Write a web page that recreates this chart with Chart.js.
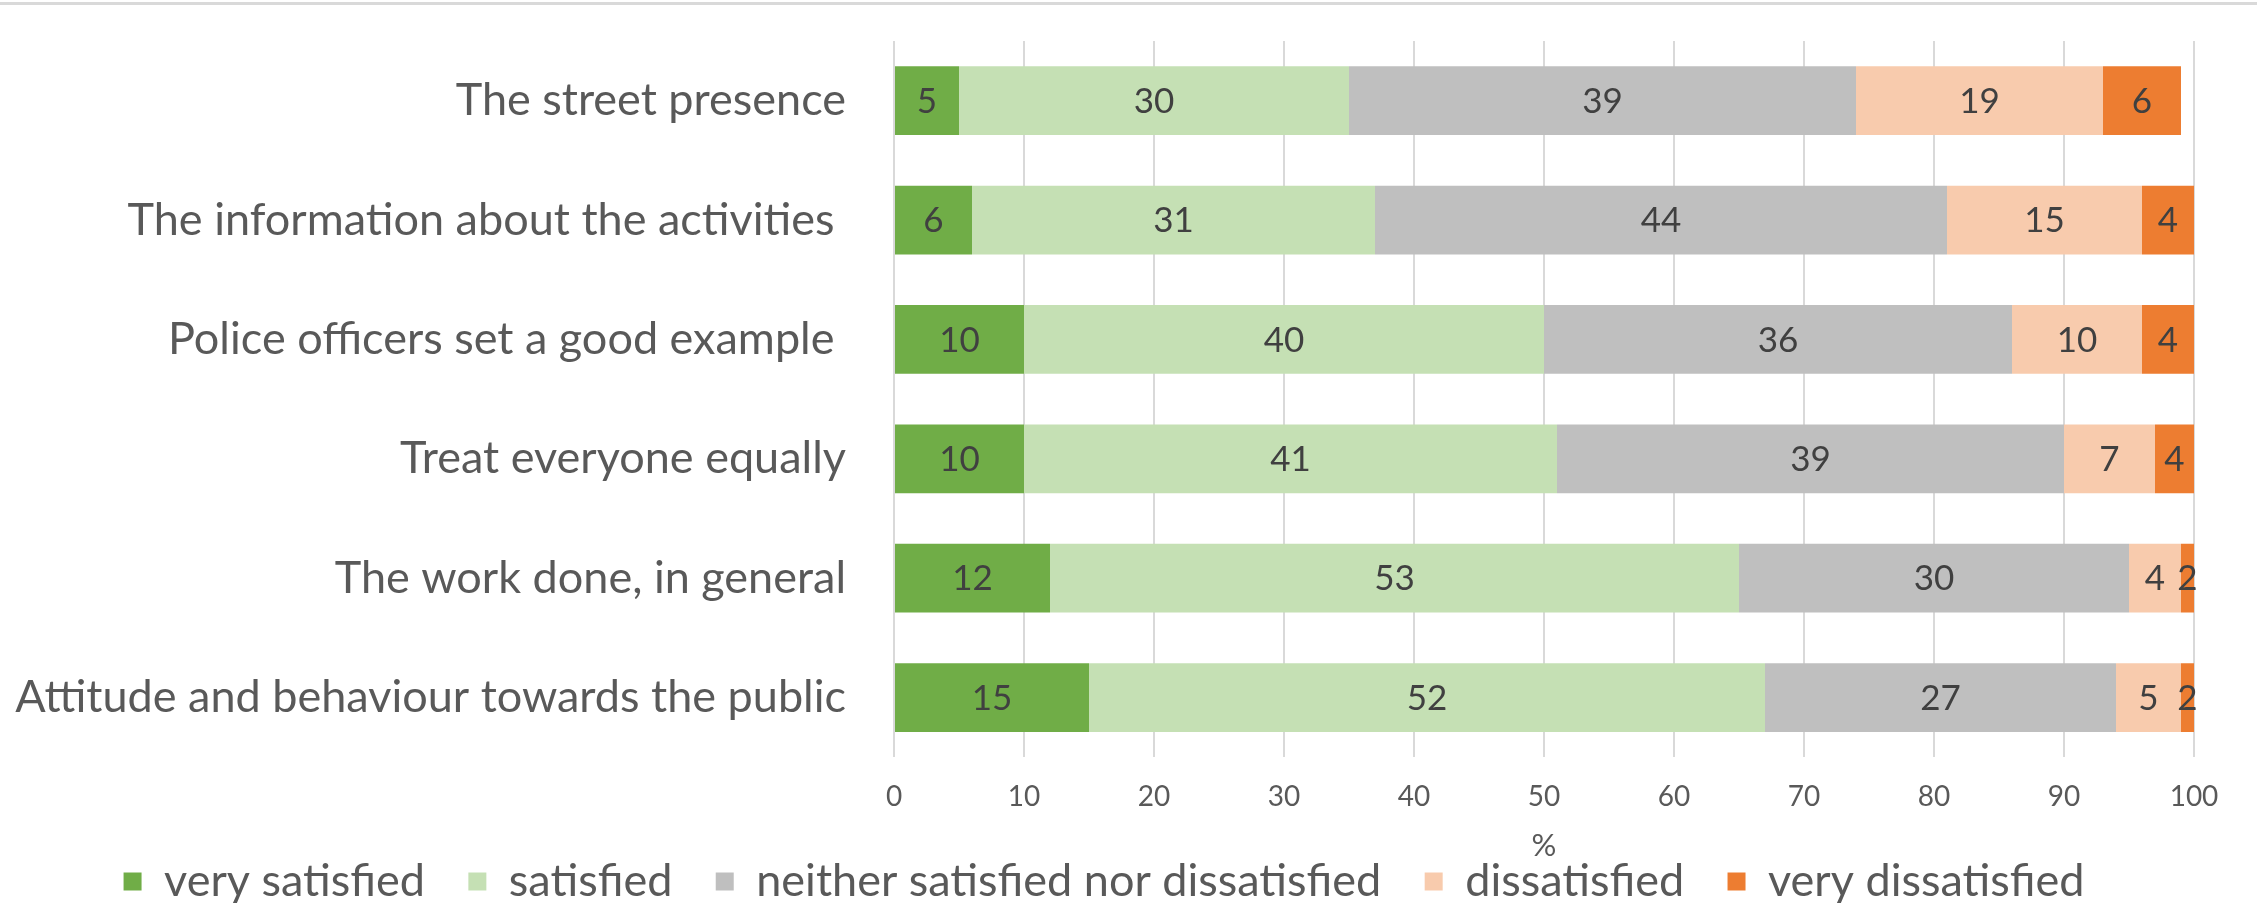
<!DOCTYPE html>
<html>
<head>
    <title>Satisfaction with the police</title>
    <script src="https://cdn.jsdelivr.net/npm/chart.js"></script>
    <style>
        body {
            margin: 0;
            background: #ffffff;
        }
        .linha {
            position: absolute;
            top: 2px;
            left: 0;
            width: 100%;
            height: 3px;
            background: #d9d9d9;
        }
        #caixa {
            position: relative;
            width: 2257px;
            height: 903px;
        }
    </style>
</head>
<body>
    <div id="caixa">
        <div class="linha"></div>
        <canvas id="grafico"></canvas>
    </div>

    <script>
        const categorias = [
            'The street presence',
            'The information about the activities ',
            'Police officers set a good example ',
            'Treat everyone equally',
            'The work done, in general',
            'Attitude and behaviour towards the public'
        ];
        const muitoSatisfeito = [5, 6, 10, 10, 12, 15];
        const satisfeito = [30, 31, 40, 41, 53, 52];
        const neutro = [39, 44, 36, 39, 30, 27];
        const insatisfeito = [19, 15, 10, 7, 4, 5];
        const muitoInsatisfeito = [6, 4, 4, 4, 2, 2];
        const ticksX = [0, 10, 20, 30, 40, 50, 60, 70, 80, 90, 100];

        const fonte = 'Lato, "Open Sans", sans-serif';

        // escreve o valor no meio de cada segmento (parte visível)
        const rotulos = {
            id: 'rotulos',
            afterDatasetsDraw(chart) {
                const ctx = chart.ctx;
                const area = chart.chartArea;
                ctx.save();
                ctx.font = '35px ' + fonte;
                ctx.fillStyle = '#404040';
                ctx.textAlign = 'center';
                ctx.textBaseline = 'middle';
                chart.data.datasets.forEach((ds, i) => {
                    chart.getDatasetMeta(i).data.forEach((barra, j) => {
                        const p = barra.getProps(['x', 'y', 'base'], true);
                        const fim = Math.min(p.x, area.right);
                        ctx.fillText(ds.data[j], (fim + p.base) / 2, p.y + 1);
                    });
                });
                ctx.restore();
            }
        };

        const ctx = document.getElementById('grafico').getContext('2d');
        const grafico = new Chart(ctx, {
            type: 'bar',
            data: {
                labels: categorias,
                datasets: [
                    { label: 'very satisfied', data: muitoSatisfeito, backgroundColor: '#70ad47' },
                    { label: 'satisfied', data: satisfeito, backgroundColor: '#c5e0b4' },
                    { label: 'neither satisfied nor dissatisfied', data: neutro, backgroundColor: '#bfbfbf' },
                    { label: 'dissatisfied', data: insatisfeito, backgroundColor: '#f8cbad' },
                    { label: 'very dissatisfied', data: muitoInsatisfeito, backgroundColor: '#ed7d31' }
                ]
            },
            options: {
                indexAxis: 'y',
                responsive: true,
                maintainAspectRatio: false,
                animation: false,
                datasets: {
                    bar: {
                        categoryPercentage: 1,
                        barPercentage: 0.576,
                        borderWidth: 0
                    }
                },
                layout: {
                    padding: { top: 41, right: 63, bottom: -11, left: 14 }
                },
                scales: {
                    x: {
                        stacked: true,
                        min: 0,
                        max: 100,
                        afterBuildTicks(scale) {
                            scale.ticks = ticksX.map(v => ({ value: v }));
                        },
                        grid: {
                            color: '#d9d9d9',
                            lineWidth: 2,
                            drawTicks: false
                        },
                        border: { display: false },
                        ticks: {
                            color: '#595959',
                            font: { family: fonte, size: 28 },
                            padding: 23
                        },
                        title: {
                            display: true,
                            text: '%',
                            color: '#595959',
                            font: { family: fonte, size: 31 },
                            padding: { top: -9, bottom: -10 }
                        }
                    },
                    y: {
                        stacked: true,
                        afterFit(scale) {
                            // largura fixa da coluna de rótulos, sem folga extra em cima/baixo
                            scale.width = 880;
                            scale.paddingTop = 0;
                            scale.paddingBottom = 0;
                        },
                        grid: { display: false, drawTicks: false },
                        border: { display: false },
                        ticks: {
                            color: '#595959',
                            font: { family: fonte, size: 45 },
                            padding: 48
                        }
                    }
                },
                plugins: {
                    legend: {
                        position: 'bottom',
                        labels: {
                            color: '#595959',
                            font: { family: fonte, size: 45 },
                            boxWidth: 18,
                            boxHeight: 18,
                            padding: 4,
                            // espaço extra entre as entradas da legenda
                            generateLabels(chart) {
                                const itens = Chart.defaults.plugins.legend.labels.generateLabels(chart);
                                itens.forEach((item, i) => {
                                    if (i < itens.length - 1) item.text += '\u2003\u2009';
                                });
                                return itens;
                            }
                        }
                    },
                    tooltip: { enabled: false }
                }
            },
            plugins: [rotulos]
        });
    </script>
</body>
</html>
